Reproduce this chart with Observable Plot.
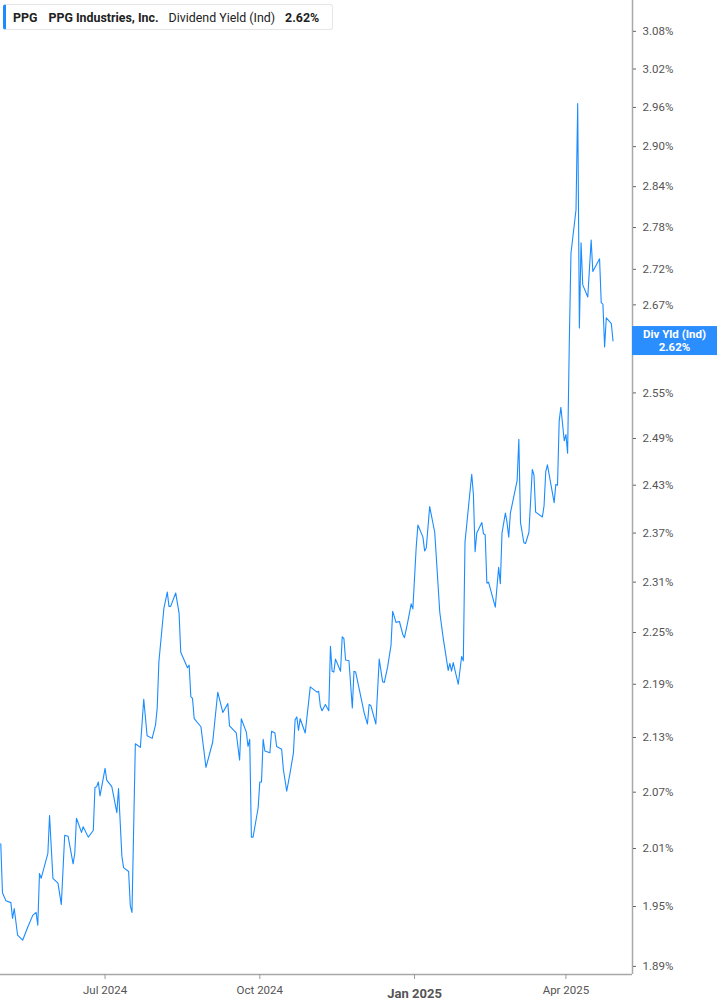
<!DOCTYPE html>
<html>
<head>
<meta charset="utf-8">
<script src="https://cdn.jsdelivr.net/npm/d3@7"></script>
<script src="https://cdn.jsdelivr.net/npm/@observablehq/plot@0.6"></script>
<style>
  body { margin: 0; background: #fff; font-family: Roboto, "Liberation Sans", sans-serif; }
  #wrap { position: relative; width: 717px; height: 1005px; }
  #legend {
    position: absolute; left: 3px; top: 4px; width: 330px; height: 26px;
    border: 1px solid #e6e6e6; border-left: 3px solid #1a8cff; border-radius: 3px;
    background: #fff; box-sizing: border-box; display: flex; align-items: center;
    font-size: 12.4px; color: #222; white-space: nowrap;
  }
  #legend .b { font-weight: 700; }
</style>
</head>
<body>
<div id="wrap">
  <div id="chart"></div>
  <div id="legend"><span class="b" style="margin-left:7px">PPG</span><span class="b" style="margin-left:11px">PPG Industries, Inc.</span><span style="margin-left:10px">Dividend Yield (Ind)</span><span class="b" style="margin-left:10px">2.62%</span></div>
</div>
<script>
const dates = [
"2024-04-30","2024-05-01","2024-05-03","2024-05-06","2024-05-07","2024-05-08","2024-05-10","2024-05-13","2024-05-16","2024-05-19",
"2024-05-21","2024-05-22","2024-05-23","2024-05-24","2024-05-28","2024-05-29","2024-05-31","2024-06-03","2024-06-05","2024-06-07",
"2024-06-09","2024-06-12","2024-06-13","2024-06-14","2024-06-17","2024-06-18","2024-06-21","2024-06-24","2024-06-25","2024-06-26",
"2024-06-27","2024-06-28","2024-07-01","2024-07-02","2024-07-05","2024-07-08","2024-07-09","2024-07-11","2024-07-12","2024-07-15",
"2024-07-16","2024-07-17","2024-07-19","2024-07-22","2024-07-24","2024-07-26","2024-07-29","2024-07-31","2024-08-01","2024-08-02",
"2024-08-05","2024-08-07","2024-08-08","2024-08-09","2024-08-12","2024-08-14","2024-08-15","2024-08-19","2024-08-20","2024-08-21",
"2024-08-22","2024-08-23","2024-08-27","2024-08-30","2024-09-03","2024-09-06","2024-09-09","2024-09-12","2024-09-13","2024-09-17",
"2024-09-19","2024-09-20","2024-09-23","2024-09-24","2024-09-25","2024-09-26","2024-09-27","2024-09-30","2024-10-01","2024-10-02",
"2024-10-03","2024-10-04","2024-10-07","2024-10-08","2024-10-10","2024-10-11","2024-10-14","2024-10-15","2024-10-17","2024-10-19",
"2024-10-21","2024-10-22","2024-10-23","2024-10-24","2024-10-25","2024-10-28","2024-10-31","2024-11-04","2024-11-05","2024-11-06",
"2024-11-07","2024-11-09","2024-11-11","2024-11-12","2024-11-13","2024-11-14","2024-11-15","2024-11-18","2024-11-19","2024-11-20",
"2024-11-21","2024-11-23","2024-11-25","2024-11-26","2024-11-27","2024-12-02","2024-12-04","2024-12-05","2024-12-06","2024-12-09",
"2024-12-11","2024-12-13","2024-12-14","2024-12-16","2024-12-18","2024-12-19","2024-12-21","2024-12-23","2024-12-25","2024-12-26",
"2024-12-28","2024-12-30","2024-12-31","2025-01-02","2025-01-03","2025-01-06","2025-01-07","2025-01-08","2025-01-10","2025-01-13",
"2025-01-16","2025-01-18","2025-01-21","2025-01-22","2025-01-23","2025-01-24","2025-01-27","2025-01-29","2025-01-30","2025-01-31",
"2025-02-04","2025-02-05","2025-02-06","2025-02-07","2025-02-10","2025-02-11","2025-02-12","2025-02-13","2025-02-14","2025-02-18",
"2025-02-20","2025-02-21","2025-02-22","2025-02-24","2025-02-25","2025-02-26","2025-02-27","2025-03-03","2025-03-04","2025-03-05",
"2025-03-07","2025-03-08","2025-03-10","2025-03-12","2025-03-13","2025-03-14","2025-03-18","2025-03-19","2025-03-20","2025-03-21",
"2025-03-25","2025-03-26","2025-03-27","2025-03-28","2025-03-29","2025-03-31","2025-04-01","2025-04-02","2025-04-03","2025-04-04",
"2025-04-07","2025-04-08","2025-04-09","2025-04-10","2025-04-11","2025-04-14","2025-04-16","2025-04-17","2025-04-21","2025-04-22",
"2025-04-23","2025-04-24","2025-04-25","2025-04-28","2025-04-29"
];
const yields = [
2.015,1.964,1.956,1.954,1.938,1.948,1.921,1.916,1.929,1.941,
1.944,1.931,1.984,1.979,2.005,2.045,1.979,1.974,1.952,2.024,
2.023,1.994,2.005,2.042,2.027,2.033,2.022,2.029,2.075,2.076,
2.081,2.066,2.096,2.083,2.076,2.048,2.074,2.002,1.990,1.986,
1.951,1.944,2.123,2.119,2.173,2.132,2.129,2.144,2.163,2.216,
2.279,2.298,2.281,2.281,2.297,2.273,2.227,2.209,2.212,2.176,
2.174,2.151,2.142,2.097,2.125,2.181,2.158,2.168,2.143,2.135,
2.105,2.151,2.136,2.120,2.128,2.022,2.022,2.053,2.081,2.081,
2.128,2.115,2.113,2.137,2.135,2.120,2.117,2.095,2.071,2.091,
2.113,2.150,2.153,2.138,2.151,2.135,2.187,2.181,2.182,2.165,
2.160,2.167,2.160,2.234,2.205,2.204,2.219,2.205,2.245,2.243,
2.218,2.217,2.163,2.205,2.204,2.158,2.145,2.167,2.166,2.145,
2.219,2.193,2.192,2.210,2.235,2.275,2.262,2.263,2.248,2.244,
2.263,2.284,2.278,2.353,2.380,2.365,2.348,2.352,2.403,2.371,
2.274,2.244,2.206,2.214,2.205,2.215,2.190,2.222,2.217,2.359,
2.444,2.418,2.347,2.370,2.383,2.369,2.368,2.309,2.310,2.280,
2.328,2.308,2.370,2.395,2.383,2.365,2.395,2.436,2.489,2.383,
2.358,2.357,2.371,2.450,2.443,2.396,2.390,2.404,2.447,2.456,
2.408,2.431,2.430,2.513,2.531,2.487,2.495,2.471,2.617,2.743,
2.806,2.966,2.638,2.758,2.698,2.681,2.762,2.717,2.735,2.673,
2.671,2.612,2.652,2.644,2.620
];
// tick values on the right axis; the 2.62 tick sits behind the value label box
const yTicks = [1.89,1.95,2.01,2.07,2.13,2.19,2.25,2.31,2.37,2.43,2.49,2.55,2.67,2.72,2.78,2.84,2.90,2.96,3.02,3.08];
const hiddenTick = [2.62];
const xTickDates = ["2024-07-01","2024-10-01","2025-04-01"];
const xTickLabels = ["Jul 2024","Oct 2024","Apr 2025"];
const yearTickDates = ["2025-01-01"];
const yearTickLabels = ["Jan 2025"];
const seriesLabel = "Div Yld (Ind)";

const data = dates.map((d, i) => ({date: new Date(d), value: yields[i]}));
const xDomain = [new Date("2024-04-29T20:00:00Z"), new Date("2025-05-10T14:00:00Z")];
const yDomain = [1.882, 3.13];
const lineColor = "#1a8cff";

const tickLab = (ticks, labels) => d => labels[ticks.findIndex(t => +new Date(t) === +d)];

const plot = Plot.plot({
  width: 717,
  height: 1005,
  marginLeft: 0,
  marginTop: 0,
  marginRight: 85,
  marginBottom: 31,
  style: {fontFamily: "Roboto, 'Liberation Sans', sans-serif", background: "#fff", overflow: "visible"},
  x: {type: "utc", domain: xDomain},
  y: {type: "log", domain: yDomain},
  marks: [
    Plot.line(data, {x: "date", y: "value", stroke: lineColor, strokeWidth: 1.1, curve: "linear"}),
    Plot.ruleY([yDomain[0]], {stroke: "#a8a8a8", strokeWidth: 1.5}),
    Plot.ruleX([xDomain[1]], {stroke: "#a8a8a8", strokeWidth: 1.5}),
    Plot.axisY({
      anchor: "right", ticks: yTicks, tickFormat: d => d.toFixed(2) + "%",
      tickSize: 3, tickPadding: 7, stroke: "#666", fill: "#555", fontSize: 11.5, label: null
    }),
    Plot.axisY({
      anchor: "right", ticks: hiddenTick, tickFormat: () => "",
      tickSize: 3, stroke: "#666", label: null
    }),
    Plot.axisX({
      ticks: xTickDates.map(d => new Date(d)), tickFormat: tickLab(xTickDates, xTickLabels),
      tickSize: 5, tickPadding: 6, stroke: "#999", fill: "#555", fontSize: 11.5, label: null
    }),
    Plot.axisX({
      ticks: yearTickDates.map(d => new Date(d)), tickFormat: tickLab(yearTickDates, yearTickLabels),
      tickSize: 5, tickPadding: 9, stroke: "#999", fill: "#555", fontSize: 13, fontWeight: "bold", label: null
    })
  ]
});

// value label box on the right axis, positioned with the y scale
const last = data[data.length - 1];
const yScale = plot.scale("y");
const yPix = yScale.apply(last.value);
const svg = d3.select(plot);
const g = svg.append("g");
g.append("rect").attr("x", 632).attr("y", yPix - 14.5).attr("width", 85).attr("height", 29).attr("fill", "#2b8eff");
g.append("text").attr("x", 674.5).attr("y", yPix - 3).attr("text-anchor", "middle")
  .attr("fill", "#fff").attr("font-size", 11.5).attr("font-weight", "bold").text(seriesLabel);
g.append("text").attr("x", 674.5).attr("y", yPix + 10).attr("text-anchor", "middle")
  .attr("fill", "#fff").attr("font-size", 11.5).attr("font-weight", "bold").text(last.value.toFixed(2) + "%");

document.getElementById("chart").appendChild(plot);
</script>
</body>
</html>
